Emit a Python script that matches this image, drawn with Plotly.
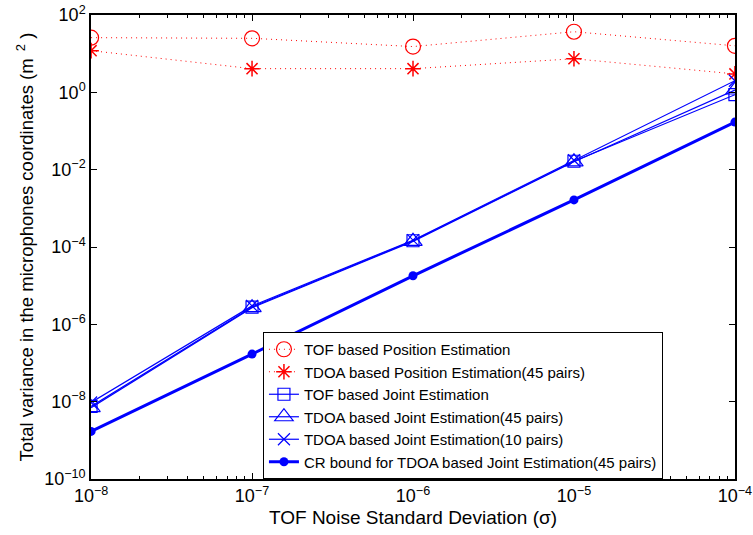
import plotly.graph_objects as go

sigma = [1e-8, 1e-7, 1e-6, 1e-5, 1e-4]
tof_pos = [26, 25, 15.3, 37, 16]
tdoa_pos45 = [12, 4.1, 4.1, 7.4, 3.0]
tof_joint = [7.5e-9, 2.8e-6, 1.45e-4, 1.65e-2, 0.87]
tdoa_joint45 = [7.0e-9, 2.7e-6, 1.4e-4, 1.6e-2, 1.15]
tdoa_joint10 = [9.5e-9, 3.0e-6, 1.5e-4, 1.75e-2, 2.0]
cr_bound = [1.7e-9, 1.7e-7, 1.8e-5, 1.65e-3, 0.17]

x_tick_vals = [1e-8, 1e-7, 1e-6, 1e-5, 1e-4]
x_tick_text = ["10<sup>−8</sup>", "10<sup>−7</sup>", "10<sup>−6</sup>", "10<sup>−5</sup>", "10<sup>−4</sup>"]
y_tick_vals = [1e-10, 1e-8, 1e-6, 1e-4, 1e-2, 1e0, 1e2]
y_tick_text = ["10<sup>−10</sup>", "10<sup>−8</sup>", "10<sup>−6</sup>", "10<sup>−4</sup>",
               "10<sup>−2</sup>", "10<sup>0</sup>", "10<sup>2</sup>"]
x_minor_vals = [k * 10.0 ** e for e in range(-8, -4) for k in range(2, 10)]

names = [
    "TOF based Position Estimation",
    "TDOA based Position Estimation(45 pairs)",
    "TOF based Joint Estimation",
    "TDOA based Joint Estimation(45 pairs)",
    "TDOA based Joint Estimation(10 pairs)",
    "CR bound for TDOA based Joint Estimation(45 pairs)",
]

RED = "#ff0000"
BLUE = "#0000ff"
DOTS = "1px,4px"

fig = go.Figure()
fig.add_trace(go.Scatter(x=sigma, y=tof_pos, name=names[0], mode="lines+markers",
                         line=dict(color=RED, width=1, dash=DOTS),
                         marker=dict(symbol="circle-open", size=15, color=RED, line=dict(width=1.2))))
fig.add_trace(go.Scatter(x=sigma, y=tdoa_pos45, name=names[1], mode="lines+markers",
                         line=dict(color=RED, width=1, dash=DOTS),
                         marker=dict(symbol="asterisk-open", size=13, color=RED, line=dict(width=1.5))))
fig.add_trace(go.Scatter(x=sigma, y=tof_joint, name=names[2], mode="lines+markers",
                         line=dict(color=BLUE, width=1.2),
                         marker=dict(symbol="square-open", size=12, color=BLUE, line=dict(width=1.2))))
fig.add_trace(go.Scatter(x=sigma, y=tdoa_joint45, name=names[3], mode="lines+markers",
                         line=dict(color=BLUE, width=1.2),
                         marker=dict(symbol="triangle-up-open", size=16, color=BLUE, line=dict(width=1.2))))
fig.add_trace(go.Scatter(x=sigma, y=tdoa_joint10, name=names[4], mode="lines+markers",
                         line=dict(color=BLUE, width=1.2),
                         marker=dict(symbol="x-thin-open", size=12, color=BLUE, line=dict(width=1.2))))
fig.add_trace(go.Scatter(x=sigma, y=cr_bound, name=names[5], mode="lines+markers",
                         line=dict(color=BLUE, width=3),
                         marker=dict(symbol="circle", size=9, color=BLUE)))

axis_common = dict(
    type="log", showgrid=False, zeroline=False,
    showline=True, linecolor="black", linewidth=1.5, mirror="ticks",
    ticks="inside", ticklen=6, tickcolor="black", tickwidth=1,
    tickmode="array", tickfont=dict(size=18, color="black"),
    ticklabeloverflow="allow", automargin=False,
)

fig.update_xaxes(**axis_common, range=[-8.0005, -3.9995],
                 tickvals=x_tick_vals, ticktext=x_tick_text,
                 minor=dict(ticks="inside", ticklen=3, tickcolor="black", showgrid=False,
                            tickmode="array", tickvals=x_minor_vals),
                 title=dict(text="TOF Noise Standard Deviation (σ)", font=dict(size=19, color="black"), standoff=5))
fig.update_yaxes(**axis_common, range=[-10.001, 2.001],
                 tickvals=y_tick_vals, ticktext=y_tick_text,
                 title=dict(text="Total variance in the microphones coordinates (m<sup>  2</sup> )",
                            font=dict(size=18.5, color="black"), standoff=6))

fig.update_layout(
    width=753, height=535,
    margin=dict(l=91, r=18, t=15, b=56),
    paper_bgcolor="white", plot_bgcolor="white",
    font=dict(family="Liberation Sans, Arial, sans-serif", color="black"),
    legend=dict(x=0.267, y=0.0, xanchor="left", yanchor="bottom",
                bgcolor="white", bordercolor="black", borderwidth=1,
                font=dict(size=15, color="black"), tracegroupgap=0,
                itemsizing="trace"),
    showlegend=True,
)

fig.write_html("out.html")
